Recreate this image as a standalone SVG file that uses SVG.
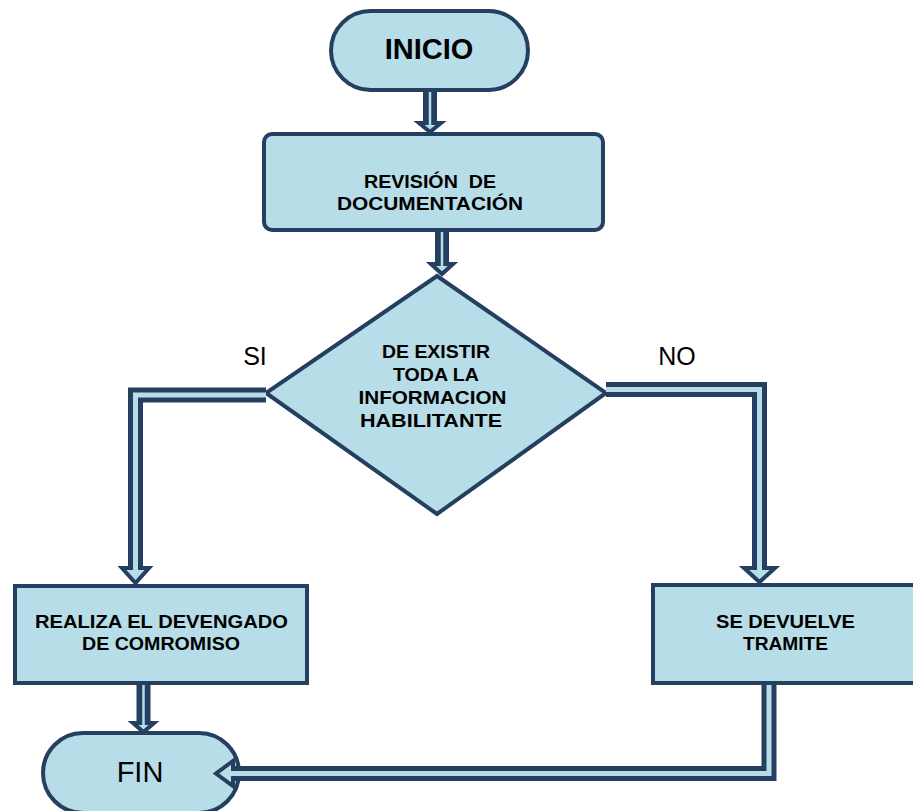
<svg xmlns="http://www.w3.org/2000/svg" width="913" height="811" viewBox="0 0 913 811">
  <style>
    .node { fill: #b7dde8; stroke: #243f60; stroke-width: 4; }
    .lbl { font-family: "Liberation Sans", Arial, sans-serif; font-weight: bold; font-size: 18.5px; fill: #000; text-anchor: middle; white-space: pre; }
    .term { font-family: "Liberation Sans", Arial, sans-serif; fill: #000; text-anchor: middle; }
    .side { font-family: "Liberation Sans", Arial, sans-serif; font-size: 25px; fill: #000; text-anchor: middle; }
    .shaft { fill: none; stroke: #243f60; stroke-width: 15; stroke-linejoin: miter; }
    .core { fill: none; stroke: #b7dde8; stroke-width: 5; stroke-linejoin: miter; }
    .shaftS { fill: none; stroke: #243f60; stroke-width: 14; }
    .coreS { fill: none; stroke: #b7dde8; stroke-width: 2.5; }
    .head { fill: #b7dde8; stroke: #243f60; stroke-width: 4; stroke-linejoin: miter; }
  </style>

  <!-- start terminal -->
  <g id="inicio">
    <rect class="node" x="331" y="11" width="197" height="79" rx="39.5"/>
    <text class="term" x="429" y="59" font-size="29" font-weight="bold">INICIO</text>
  </g>

  <!-- process: document review -->
  <g id="revision">
    <rect class="node" x="264" y="134" width="339" height="96" rx="8"/>
    <text class="lbl" x="430" y="188" textLength="132" lengthAdjust="spacingAndGlyphs">REVISIÓN  DE</text>
    <text class="lbl" x="430" y="210" textLength="186" lengthAdjust="spacingAndGlyphs">DOCUMENTACIÓN</text>
  </g>

  <!-- decision -->
  <g id="decision">
    <polygon class="node" points="437,276 606,393 437,514 266,393"/>
    <text class="lbl" x="436" y="358" textLength="108" lengthAdjust="spacingAndGlyphs">DE EXISTIR</text>
    <text class="lbl" x="436" y="381" textLength="86" lengthAdjust="spacingAndGlyphs">TODA LA</text>
    <text class="lbl" x="432.5" y="404" textLength="148" lengthAdjust="spacingAndGlyphs">INFORMACION</text>
    <text class="lbl" x="431" y="427" textLength="142" lengthAdjust="spacingAndGlyphs">HABILITANTE</text>
  </g>

  <!-- process: accrual -->
  <g id="devengado">
    <rect class="node" x="15" y="586" width="292" height="97"/>
    <text class="lbl" x="161.5" y="628" textLength="253" lengthAdjust="spacingAndGlyphs">REALIZA EL DEVENGADO</text>
    <text class="lbl" x="161" y="650" textLength="158" lengthAdjust="spacingAndGlyphs">DE COMROMISO</text>
  </g>

  <!-- process: return -->
  <g id="devuelve">
    <rect class="node" x="653" y="585" width="264" height="98"/>
    <text class="lbl" x="785.5" y="628" textLength="139" lengthAdjust="spacingAndGlyphs">SE DEVUELVE</text>
    <text class="lbl" x="785.5" y="650" textLength="85" lengthAdjust="spacingAndGlyphs">TRAMITE</text>
  </g>

  <!-- end terminal -->
  <g id="fin">
    <rect class="node" x="43" y="733" width="196" height="80" rx="40"/>
    <text class="term" x="140" y="782" font-size="29">FIN</text>
  </g>

  <!-- branch labels -->
  <g id="labels">
    <text class="side" x="255" y="365">SI</text>
    <text class="side" x="677" y="365">NO</text>
  </g>

  <!-- connectors -->
  <g id="connectors">
    <!-- INICIO to review -->
    <path class="shaftS" d="M430 92 V123"/>
    <polygon class="head" points="419,123 441,123 430,132"/>
    <path class="coreS" d="M430 92 V126"/>

    <!-- review to decision -->
    <path class="shaftS" d="M442 232 V264"/>
    <polygon class="head" points="431,264 453,264 442,274"/>
    <path class="coreS" d="M442 232 V267"/>

    <!-- SI branch -->
    <path class="shaft" d="M266 395 H135.5 V568"/>
    <polygon class="head" points="122,568 149,568 135.5,583"/>
    <path class="core" d="M266 395 H135.5 V572"/>

    <!-- NO branch -->
    <path class="shaft" d="M606 389.5 H759.5 V568"/>
    <polygon class="head" points="744,568 775,568 759.5,582"/>
    <path class="core" d="M606 389.5 H759.5 V572"/>

    <!-- accrual to FIN -->
    <path class="shaftS" d="M143.5 685 V723"/>
    <polygon class="head" points="133,723 154,723 143.5,732"/>
    <path class="coreS" d="M143.5 685 V726"/>

    <!-- return to FIN -->
    <path class="shaft" d="M769 685 V773.5 H233"/>
    <polygon class="head" points="233,761 233,786 216,773.5"/>
    <path class="core" d="M769 685 V773.5 H229"/>
  </g>
</svg>
